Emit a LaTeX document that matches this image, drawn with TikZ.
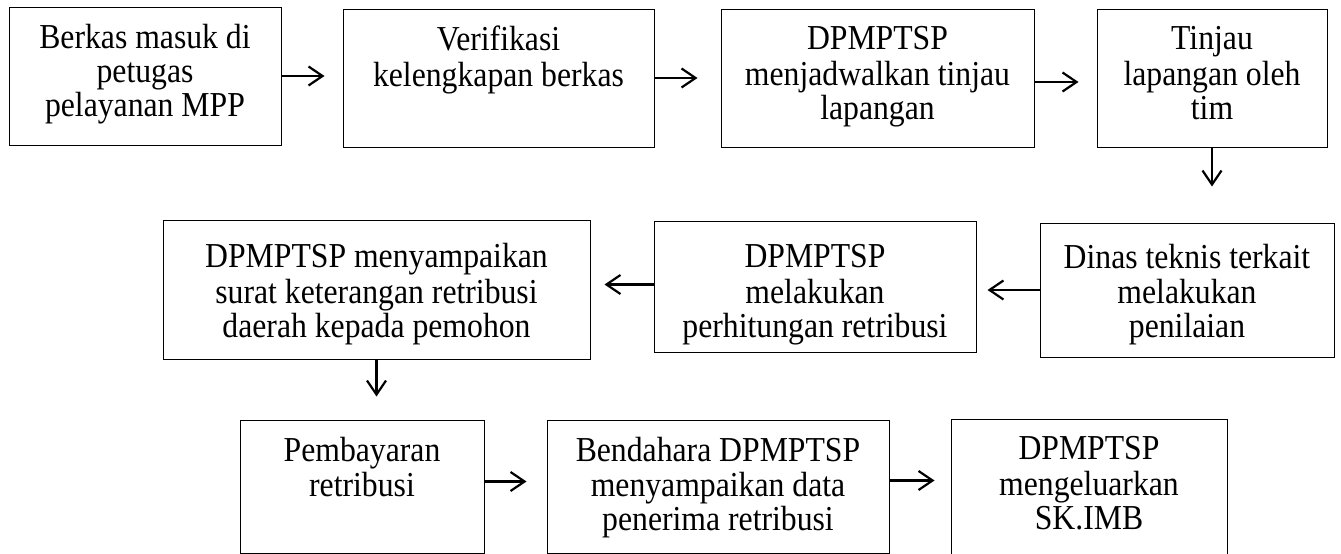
\documentclass[tikz,border=0pt]{standalone}
\usepackage{fontspec}
\setmainfont{Liberation Serif}[FakeStretch=0.906]
\usetikzlibrary{arrows.meta}

% text of a box: [top gap], width, height, lines (top aligned)
\newcommand{\boxtext}[4][17]{\parbox[c][#3pt][t]{#2pt}{\centering\vspace*{#1pt}\strut#4}}

\begin{document}
\begin{tikzpicture}[x=1pt, y=-1pt,
    box/.style={draw, line width=1pt, inner sep=0pt, font=\fontsize{35}{34}\selectfont},
    arr/.style={line width=2.2pt, -{Straight Barb[length=14pt, width=19pt]}}]
    \useasboundingbox (0,0) rectangle (1341,554);

    % first row
    \node[box] (b1) at (145,76)    {\boxtext{272}{138}{Berkas masuk di\\ petugas\\ pelayanan MPP}};
    \node[box] (b2) at (498.5,78)  {\boxtext{311}{138}{Verifikasi\\ kelengkapan berkas}};
    \node[box] (b3) at (877.5,78)  {\boxtext{313}{138}{DPMPTSP\\ menjadwalkan tinjau\\ lapangan}};
    \node[box] (b4) at (1212,78)   {\boxtext{230}{138}{Tinjau\\ lapangan oleh\\ tim}};

    % second row
    \node[box] (b5) at (376.5,290) {\boxtext[23]{427}{139}{DPMPTSP menyampaikan\\ surat keterangan retribusi\\ daerah kepada pemohon}};
    \node[box] (b6) at (815,286.5) {\boxtext[23]{322}{131}{DPMPTSP\\ melakukan\\ perhitungan retribusi}};
    \node[box] (b7) at (1187,290)  {\boxtext[21]{294}{134}{Dinas teknis terkait\\ melakukan\\ penilaian}};

    % third row
    \node[box] (b8) at (362,486.5)  {\boxtext{244}{133}{Pembayaran\\ retribusi}};
    \node[box] (b9) at (718,486.5)  {\boxtext{342}{133}{Bendahara DPMPTSP\\ menyampaikan data\\ penerima retribusi}};
    \node[box] (b10) at (1089,488)  {\boxtext{276}{138}{DPMPTSP\\ mengeluarkan\\ SK.IMB}};

    \draw[arr, shorten >=18pt] (b1.east) -- (b1.east -| b2.west);
    \draw[arr, shorten >=23pt] (b2.east) -- (b2.east -| b3.west);
    \draw[arr, shorten >=18pt] ([yshift=-4pt]b3.east) -- ([yshift=-4pt]b3.east -| b4.west);
    \draw[arr, shorten >=36pt] (b4.south) -- (b4.south |- b7.north);

    \draw[arr, shorten >=11pt] (b7.west) -- (b7.west -| b6.east);
    \draw[arr, shorten >=14pt] ([yshift=2pt]b6.west) -- ([yshift=2pt]b6.west -| b5.east);
    \draw[arr, shorten >=23pt] (b5.south) -- (b5.south |- b8.north);

    \draw[arr, shorten >=20pt] ([yshift=5pt]b8.east) -- ([yshift=5pt]b8.east -| b9.west);
    \draw[arr, shorten >=16pt] ([yshift=6pt]b9.east) -- ([yshift=6pt]b9.east -| b10.west);
\end{tikzpicture}
\end{document}
